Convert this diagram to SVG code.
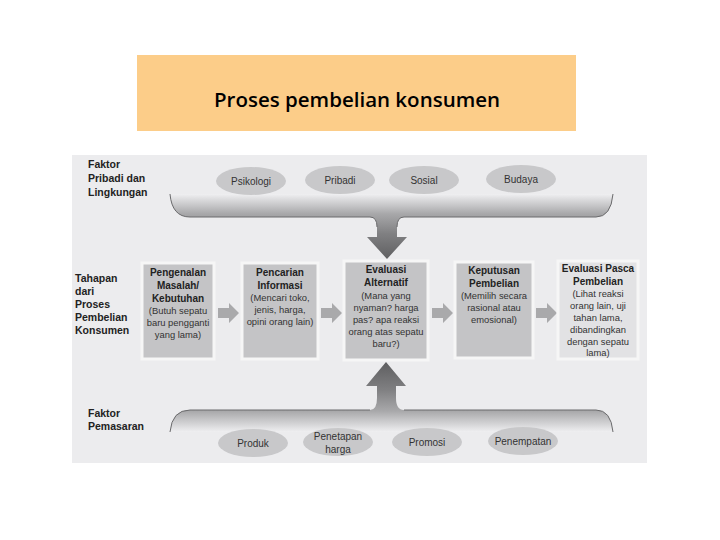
<svg xmlns="http://www.w3.org/2000/svg" width="720" height="540" viewBox="0 0 720 540">
<defs>
<style>
.lbl{font-family:"Liberation Sans",Arial,sans-serif;font-size:10.5px;font-weight:bold;fill:#222}
.ell{fill:#c8c8ca}
.et{font-family:"Liberation Sans",Arial,sans-serif;font-size:10px;fill:#333;text-anchor:middle}
.box{fill:#c4c4c6;stroke:#f6f6f6;stroke-width:3}
.bt{font-family:"Liberation Sans",Arial,sans-serif;font-size:10px;font-weight:bold;fill:#222;text-anchor:middle}
.bs{font-family:"Liberation Sans",Arial,sans-serif;font-size:9.4px;fill:#333;text-anchor:middle}
.sa{fill:#a9a9ab}
</style>
<linearGradient id="gTop" gradientUnits="userSpaceOnUse" x1="0" y1="194" x2="0" y2="260">
<stop offset="0" stop-color="#efeff1"/>
<stop offset="0.3" stop-color="#a8a8aa"/>
<stop offset="0.6" stop-color="#808082"/>
<stop offset="1" stop-color="#5e5e60"/>
</linearGradient>
<linearGradient id="gBot" gradientUnits="userSpaceOnUse" x1="0" y1="432" x2="0" y2="362">
<stop offset="0" stop-color="#efeff1"/>
<stop offset="0.3" stop-color="#a8a8aa"/>
<stop offset="0.6" stop-color="#808082"/>
<stop offset="1" stop-color="#5e5e60"/>
</linearGradient>
</defs>
<rect width="720" height="540" fill="#ffffff"/>
<g id="title">
<rect x="137" y="55" width="439" height="76" fill="#fccd89"/>
<text x="357" y="107" font-family="Open Sans,Liberation Sans,sans-serif" font-size="20.5" font-weight="600" fill="#000" text-anchor="middle">Proses pembelian konsumen</text>
</g>
<rect x="72" y="155" width="575" height="308" fill="#ececee"/>
<g id="labels">
<text class="lbl" x="88" y="168">Faktor</text>
<text class="lbl" x="88" y="182">Pribadi dan</text>
<text class="lbl" x="88" y="196">Lingkungan</text>
<text class="lbl" x="75" y="282">Tahapan</text>
<text class="lbl" x="75" y="295">dari</text>
<text class="lbl" x="75" y="308">Proses</text>
<text class="lbl" x="75" y="321">Pembelian</text>
<text class="lbl" x="75" y="334">Konsumen</text>
<text class="lbl" x="88" y="417">Faktor</text>
<text class="lbl" x="88" y="430">Pemasaran</text>
</g>
<g id="connectors">
<path d="M170,194 Q172,217 190,217 L370,217 Q377,217 377,227 L377,237 L367,237 L387,259 L407,237 L397,237 L397,227 Q397,217 404,217 L596,217 Q611,217 613,194 Z" fill="url(#gTop)"/>
<path d="M170,194 Q172,217 190,217 L370,217 Q377,217 377,227" fill="none" stroke="#6a6a6c" stroke-width="1"/>
<path d="M397,227 Q397,217 404,217 L596,217 Q611,217 613,194" fill="none" stroke="#6a6a6c" stroke-width="1"/>
<path d="M170,432 Q172,410 190,410 L370,410 Q377,410 377,398 L377,386 L366,386 L386,362 L406,386 L396,386 L396,398 Q396,410 404,410 L596,410 Q611,410 613,432 Z" fill="url(#gBot)"/>
<path d="M170,432 Q172,410 190,410 L370,410" fill="none" stroke="#6a6a6c" stroke-width="1"/>
<path d="M404,410 L596,410 Q611,410 613,432" fill="none" stroke="#6a6a6c" stroke-width="1"/>
<path class="sa" d="M218,308 L229,308 L229,303 L239,313 L229,323 L229,318 L218,318 Z"/>
<path class="sa" d="M321,308 L332,308 L332,303 L342,313 L332,323 L332,318 L321,318 Z"/>
<path class="sa" d="M432,308 L443,308 L443,303 L453,313 L443,323 L443,318 L432,318 Z"/>
<path class="sa" d="M536,308 L547,308 L547,303 L557,313 L547,323 L547,318 L536,318 Z"/>
</g>
<g id="psikologi"><ellipse class="ell" cx="251" cy="181" rx="35" ry="14"/><text class="et" x="251" y="185">Psikologi</text></g>
<g id="pribadi"><ellipse class="ell" cx="340" cy="180" rx="35" ry="14"/><text class="et" x="340" y="184">Pribadi</text></g>
<g id="sosial"><ellipse class="ell" cx="424" cy="180" rx="35" ry="14"/><text class="et" x="424" y="184">Sosial</text></g>
<g id="budaya"><ellipse class="ell" cx="521" cy="179" rx="35" ry="14"/><text class="et" x="521" y="183">Budaya</text></g>
<g id="produk"><ellipse class="ell" cx="253" cy="443" rx="35" ry="14"/><text class="et" x="253" y="447">Produk</text></g>
<g id="harga"><ellipse class="ell" cx="338" cy="442" rx="35" ry="14"/><text class="et" x="338" y="440">Penetapan</text><text class="et" x="338" y="453">harga</text></g>
<g id="promosi"><ellipse class="ell" cx="427" cy="442" rx="35" ry="14"/><text class="et" x="427" y="446">Promosi</text></g>
<g id="penempatan"><ellipse class="ell" cx="523" cy="441" rx="35" ry="14"/><text class="et" x="523" y="445">Penempatan</text></g>
<g id="box1"><rect class="box" x="142" y="263" width="72" height="96"/>
<text class="bt" x="178" y="276">Pengenalan</text><text class="bt" x="178" y="289">Masalah/</text><text class="bt" x="178" y="302">Kebutuhan</text>
<text class="bs" x="178" y="314">(Butuh sepatu</text><text class="bs" x="178" y="326">baru pengganti</text><text class="bs" x="178" y="338">yang lama)</text></g>
<g id="box2"><rect class="box" x="242" y="263" width="76" height="96"/>
<text class="bt" x="280" y="276">Pencarian</text><text class="bt" x="280" y="289">Informasi</text>
<text class="bs" x="280" y="301">(Mencari toko,</text><text class="bs" x="280" y="313">jenis, harga,</text><text class="bs" x="280" y="325">opini orang lain)</text></g>
<g id="box3"><rect class="box" x="344" y="261" width="84" height="99"/>
<text class="bt" x="386" y="273">Evaluasi</text><text class="bt" x="386" y="286">Alternatif</text>
<text class="bs" x="386" y="299">(Mana yang</text><text class="bs" x="386" y="311">nyaman? harga</text><text class="bs" x="386" y="323">pas? apa reaksi</text><text class="bs" x="386" y="335">orang atas sepatu</text><text class="bs" x="386" y="347">baru?)</text></g>
<g id="box4"><rect class="box" x="455" y="262" width="78" height="96"/>
<text class="bt" x="494" y="274">Keputusan</text><text class="bt" x="494" y="287">Pembelian</text>
<text class="bs" x="494" y="299">(Memilih secara</text><text class="bs" x="494" y="311">rasional atau</text><text class="bs" x="494" y="323">emosional)</text></g>
<g id="box5"><rect class="box" x="558" y="261" width="80" height="98" style="fill:#e2e2e4"/>
<text class="bt" x="598" y="272">Evaluasi Pasca</text><text class="bt" x="598" y="285">Pembelian</text>
<text class="bs" x="598" y="297">(Lihat reaksi</text><text class="bs" x="598" y="309">orang lain, uji</text><text class="bs" x="598" y="321">tahan lama,</text><text class="bs" x="598" y="333">dibandingkan</text><text class="bs" x="598" y="345">dengan sepatu</text><text class="bs" x="598" y="356">lama)</text></g>
</svg>
